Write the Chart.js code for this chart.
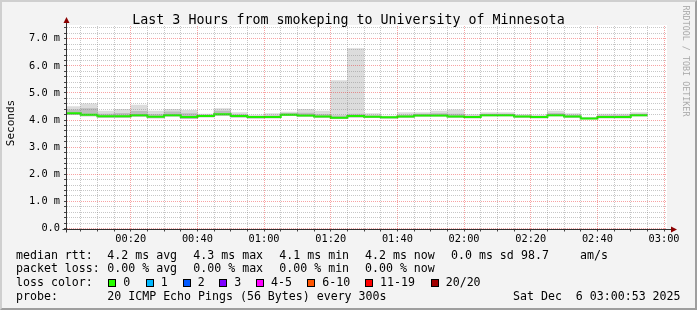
<!DOCTYPE html>
<html><head><meta charset="utf-8">
<script src="https://cdn.jsdelivr.net/npm/chart.js@4/dist/chart.umd.min.js"></script>
<style>
html,body{margin:0;padding:0;background:#f3f3f3;}
#wrap{position:relative;width:697px;height:310px;overflow:hidden;background:#f3f3f3;font-family:'DejaVu Sans Mono',monospace;color:#000;}
#c{position:absolute;left:0;top:0;}
#frame{position:absolute;left:0;top:0;width:697px;height:310px;box-sizing:border-box;border-top:2px solid #cfcfcf;border-left:2px solid #cfcfcf;border-bottom:2px solid #9e9e9e;border-right:2px solid #9e9e9e;pointer-events:none;}
.t{position:absolute;white-space:pre;line-height:1;}
.lg{font-size:11.6px;}
.box{position:absolute;width:6px;height:6px;border:1px solid #000;}
#title{font-size:13.3px;left:0;width:697px;text-align:center;top:12.5px;}
#unit{font-size:11px;line-height:12px;width:60px;height:12px;text-align:center;left:-19px;top:117px;transform:rotate(-90deg);transform-origin:50% 50%;}
#wm{font-size:8.4px;line-height:10px;width:120px;height:10px;text-align:center;left:626px;top:56px;color:#aaaaaa;transform:rotate(90deg);transform-origin:50% 50%;}
</style></head>
<body>
<div id="wrap">
<canvas id="c" width="697" height="310"></canvas>
<div class="t" id="title">Last 3 Hours from smokeping to University of Minnesota</div>
<div class="t" id="unit">Seconds</div>
<div class="t" id="wm">RRDTOOL / TOBI OETIKER</div>
<div id="legend"></div>
<div id="frame"></div>
</div>
<script>
// ---- data ----
// step start, minutes after 00:00 (each step = 5 minutes, 300 s)
const stepStartMin = [0,5,10,15,20,25,30,35,40,45,50,55,60,65,70,75,80,85,90,95,100,105,110,115,120,125,130,135,140,145,150,155,160,165,170];
// median RTT per step (ms)
const medianMs   = [4.25,4.20,4.14,4.14,4.18,4.12,4.18,4.11,4.15,4.21,4.15,4.11,4.11,4.20,4.17,4.13,4.09,4.15,4.12,4.10,4.13,4.17,4.17,4.13,4.11,4.18,4.18,4.13,4.11,4.18,4.13,4.06,4.11,4.11,4.18];
// smoke: highest ping per step (ms)
const smokeMaxMs = [4.50,4.60,4.33,4.40,4.55,4.33,4.40,4.36,4.22,4.42,4.28,4.18,4.24,4.29,4.40,4.33,5.46,6.64,4.24,4.15,4.28,4.28,4.33,4.38,4.20,4.28,4.28,4.20,4.18,4.33,4.24,4.10,4.22,4.22,4.28];
// smoke: upper inner band per step (ms)
const smokeUpperMs = [4.38,4.42,4.22,4.25,4.32,4.20,4.30,4.24,4.19,4.33,4.20,4.14,4.16,4.25,4.26,4.20,4.16,4.22,4.16,4.12,4.18,4.22,4.24,4.22,4.15,4.22,4.22,4.16,4.14,4.25,4.18,4.08,4.17,4.17,4.22];
// smoke: lowest ping per step (ms)
const smokeMinMs = [4.20,4.15,4.10,4.10,4.13,4.08,4.14,4.05,4.12,4.17,4.11,4.07,4.08,4.16,4.13,4.10,4.05,4.11,4.09,4.07,4.10,4.14,4.14,4.10,4.08,4.15,4.15,4.10,4.08,4.15,4.10,4.04,4.08,4.08,4.15];
const stepMin = 5;
const viewStartMin = 0.88, viewEndMin = 180.88;   // 00:00:53 .. 03:00:53
const yMaxMs = 7.47;
const xTickLabels = ['00:20','00:40','01:00','01:20','01:40','02:00','02:20','02:40','03:00'];
const yTickLabels = ['0.0','1.0 m','2.0 m','3.0 m','4.0 m','5.0 m','6.0 m','7.0 m'];
const lossColors = ['#26ff00','#00b8ff','#0059ff','#7e00ff','#ff00ff','#ff5500','#ff0000','#a10000'];
const lossLabels = ['0','1','2','3','4-5','6-10','11-19','20/20'];

// ---- legend (text) ----
const lg = document.getElementById('legend');
function txt(x, top, s){ const d=document.createElement('div'); d.className='t lg'; d.style.left=x+'px'; d.style.top=top+'px'; d.textContent=s; lg.appendChild(d); }
const rows = [249.5, 263.2, 276.9, 290.6];
txt(16, rows[0], 'median rtt:'); txt(107.3, rows[0], '4.2 ms avg'); txt(193.3, rows[0], '4.3 ms max'); txt(279.3, rows[0], '4.1 ms min');
txt(365, rows[0], '4.2 ms now'); txt(451, rows[0], '0.0 ms sd'); txt(521, rows[0], '98.7'); txt(580, rows[0], 'am/s');
txt(16, rows[1], 'packet loss:'); txt(107.3, rows[1], '0.00 % avg'); txt(193.3, rows[1], '0.00 % max'); txt(279.3, rows[1], '0.00 % min'); txt(365, rows[1], '0.00 % now');
txt(16, rows[2], 'loss color:');
const boxX = [108.3,145.7,182.7,219.3,256,307.3,365,430.7];
lossLabels.forEach((l,i)=>{ const b=document.createElement('div'); b.className='box'; b.style.left=boxX[i]+'px'; b.style.top='278.5px'; b.style.background=lossColors[i]; lg.appendChild(b); txt(boxX[i]+15, rows[2], l); });
txt(16, rows[3], 'probe:'); txt(107.3, rows[3], '20 ICMP Echo Pings (56 Bytes) every 300s'); txt(513, rows[3], 'Sat Dec  6 03:00:53 2025');

// ---- chart ----
const FONT = 'DejaVu Sans Mono';
const outer = stepStartMin.map((t,i)=>({x:t+stepMin/2, y:[smokeMinMs[i], smokeMaxMs[i]]}));
const inner = stepStartMin.map((t,i)=>({x:t+stepMin/2, y:[smokeMinMs[i], smokeUpperMs[i]]}));
const med = stepStartMin.map((t,i)=>({x:t, y:medianMs[i]}));
med.push({x: stepStartMin[stepStartMin.length-1]+stepMin, y: medianMs[medianMs.length-1]});

const xTicks = []; for (let m = 5; m <= 180; m += 5) xTicks.push(m);
const yTicks = []; for (let k = 0; k <= 37; k++) yTicks.push(k/5);
const RED = 'rgba(235,0,0,0.36)', GREY = 'rgba(130,130,130,0.45)';

const frame = {
  id:'frame',
  beforeDraw(chart){ const {ctx, chartArea:a} = chart; ctx.save(); ctx.fillStyle='#ffffff'; ctx.fillRect(a.left, a.top-1, a.right-a.left, a.bottom-a.top+1); ctx.restore(); },
  afterDraw(chart){
    const {ctx, chartArea:a} = chart; ctx.save();
    ctx.strokeStyle='#333'; ctx.lineWidth=1;
    const ax = Math.round(a.left)-0.5, ay = Math.round(a.bottom)+0.5;
    ctx.beginPath(); ctx.moveTo(ax, ay+3); ctx.lineTo(ax, a.top-5); ctx.stroke();
    ctx.beginPath(); ctx.moveTo(ax-4, ay); ctx.lineTo(a.right+6, ay); ctx.stroke();
    ctx.fillStyle='#8b0000';
    ctx.beginPath(); ctx.moveTo(ax, a.top-9); ctx.lineTo(ax-3, a.top-3); ctx.lineTo(ax+3, a.top-3); ctx.closePath(); ctx.fill();
    ctx.beginPath(); ctx.moveTo(a.right+10, ay); ctx.lineTo(a.right+4, ay-3); ctx.lineTo(a.right+4, ay+3); ctx.closePath(); ctx.fill();
    ctx.restore();
  }
};

new Chart(document.getElementById('c'), {
  type:'bar',
  data:{ datasets:[
    {type:'line', data:med, borderColor:'#20f000', borderWidth:2, stepped:'before', pointRadius:0, fill:false, clip:0, order:0},
    {type:'bar', data:inner, backgroundColor:'#bdbdbd', grouped:false, barPercentage:1, categoryPercentage:1, borderWidth:0, clip:0, order:1},
    {type:'bar', data:outer, backgroundColor:'#dcdcdc', grouped:false, barPercentage:1, categoryPercentage:1, borderWidth:0, clip:0, order:2}
  ]},
  options:{
    responsive:false, animation:false, devicePixelRatio:1,
    layout:{padding:{left:10, right:30, top:26, bottom:61.5}},
    plugins:{legend:{display:false}, title:{display:false}, tooltip:{enabled:false}},
    scales:{
      x:{ type:'linear', min:viewStartMin, max:viewEndMin, offset:false,
        afterFit(s){ s.height = 20; },
        afterBuildTicks(s){ s.ticks = xTicks.map(v=>({value:v})); },
        ticks:{ autoSkip:false, maxRotation:0, padding:2, color:'#000', font:{family:FONT, size:10.3},
          callback(v){ return v % 20 === 0 ? xTickLabels[v/20 - 1] : ''; } },
        grid:{ offset:false, color:ctx => (ctx.tick && ctx.tick.value % 20 === 0) ? RED : GREY, tickLength:3, tickColor:'#444', tickBorderDash:[], z:1 },
        border:{ display:false, dash:[1,1] }
      },
      y:{ type:'linear', min:0, max:yMaxMs,
        afterFit(s){ s.width = 57; },
        afterBuildTicks(s){ s.ticks = yTicks.map(v=>({value:v})); },
        ticks:{ autoSkip:false, padding:4, color:'#000', font:{family:FONT, size:10.3},
          callback(v){ const k = Math.round(v*5); return k % 5 === 0 ? yTickLabels[k/5] : ''; } },
        grid:{ color:ctx => (ctx.tick && Math.round(ctx.tick.value*5) % 5 === 0) ? RED : GREY, tickLength:3, tickColor:'#444', tickBorderDash:[], z:1 },
        border:{ display:false, dash:[1,1] }
      }
    }
  },
  plugins:[frame]
});
</script>
</body></html>
